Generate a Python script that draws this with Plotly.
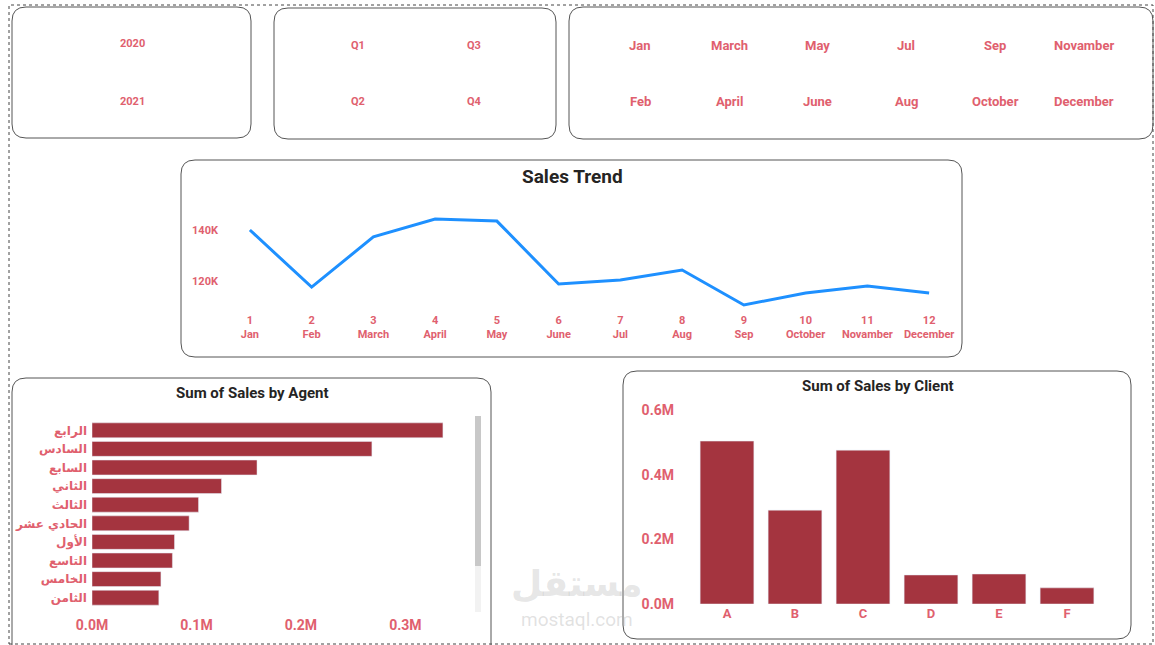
import plotly.graph_objects as go

W, H = 1155, 645

years = ["2020", "2021"]
quarters = ["Q1", "Q3", "Q2", "Q4"]
month_slicer = ["Jan", "March", "May", "Jul", "Sep", "Novamber",
                "Feb", "April", "June", "Aug", "October", "December"]

trend_x = list(range(1, 13))
trend_labels = ["Jan", "Feb", "March", "April", "May", "June", "Jul", "Aug",
                "Sep", "October", "Novamber", "December"]
trend_sales = [140.0, 117.6, 137.3, 144.3, 143.5, 118.8, 120.4, 124.3,
               110.6, 115.3, 118.0, 115.3]

agents = ["الرابع", "السادس", "السابع", "الثاني", "الثالث", "الحادي عشر",
          "الأول", "التاسع", "الخامس", "الثامن"]
agent_sales = [0.336, 0.268, 0.158, 0.124, 0.102, 0.093, 0.079, 0.077, 0.066, 0.064]

clients = ["A", "B", "C", "D", "E", "F"]
client_sales = [0.505, 0.291, 0.477, 0.090, 0.093, 0.050]

PINK = "#e0606e"
BAR = "#a4343f"
FONT = "Roboto"


def px(x):
    return x / W


def py(y):
    return 1 - y / H


def rounded_box(x0, y0, x1, y1, r=14):
    pts = [
        f"M {px(x0 + r)},{py(y0)}",
        f"L {px(x1 - r)},{py(y0)}",
        f"Q {px(x1)},{py(y0)} {px(x1)},{py(y0 + r)}",
        f"L {px(x1)},{py(y1 - r)}",
        f"Q {px(x1)},{py(y1)} {px(x1 - r)},{py(y1)}",
        f"L {px(x0 + r)},{py(y1)}",
        f"Q {px(x0)},{py(y1)} {px(x0)},{py(y1 - r)}",
        f"L {px(x0)},{py(y0 + r)}",
        f"Q {px(x0)},{py(y0)} {px(x0 + r)},{py(y0)} Z",
    ]
    return dict(type="path", xref="paper", yref="paper", path=" ".join(pts),
                line=dict(color="#555555", width=1), fillcolor="rgba(0,0,0,0)")


def pfont(size, color=PINK, family=FONT):
    return dict(family=family, size=size, color=color, weight="bold")


fig = go.Figure()

# Sales trend line
fig.add_trace(go.Scatter(
    x=trend_x, y=trend_sales, mode="lines",
    line=dict(color="#1e90ff", width=3), xaxis="x", yaxis="y", showlegend=False))

# Agent bars
fig.add_trace(go.Bar(
    x=agent_sales, y=agents, orientation="h", marker_color=BAR, width=0.8,
    xaxis="x2", yaxis="y2", showlegend=False))

# Client bars
fig.add_trace(go.Bar(
    x=clients, y=client_sales, marker_color=BAR, width=0.79,
    xaxis="x3", yaxis="y3", showlegend=False))

fig.update_layout(
    width=W, height=H, margin=dict(l=0, r=0, t=0, b=0),
    paper_bgcolor="white", plot_bgcolor="white",
    font=dict(family=FONT),
    xaxis=dict(domain=[px(219), px(960)], range=[0.5, 12.5],
               tickvals=trend_x,
               ticktext=[f"{n}<br>{m}" for n, m in zip(trend_x, trend_labels)],
               showgrid=False, zeroline=False, showline=False,
               tickfont=pfont(11)),
    yaxis=dict(domain=[py(311.6), py(209.6)], range=[108, 148],
               tickvals=[120, 140], ticktext=["120K", "140K"],
               showgrid=False, zeroline=False, tickfont=pfont(11)),
    xaxis2=dict(domain=[px(92), px(468)], range=[0, 0.36],
                tickvals=[0, 0.1, 0.2, 0.3], ticktext=["0.0M", "0.1M", "0.2M", "0.3M"],
                showgrid=False, zeroline=False, anchor="y2", ticklabelstandoff=8,
                tickfont=pfont(14)),
    yaxis2=dict(domain=[py(607), py(421)], autorange="reversed",
                showgrid=False, anchor="x2", ticklabelstandoff=4,
                tickfont=pfont(12, family="DejaVu Sans")),
    xaxis3=dict(domain=[px(693), px(1101)], range=[-0.5, 5.5],
                showgrid=False, anchor="y3",
                tickfont=pfont(13)),
    yaxis3=dict(domain=[py(604), py(404)], range=[0, 0.62],
                tickvals=[0, 0.2, 0.4, 0.6], ticktext=["0.0M", "0.2M", "0.4M", "0.6M"],
                showgrid=False, zeroline=False, anchor="x3", ticklabelstandoff=18,
                tickfont=pfont(14)),
)
fig.update_xaxes(automargin=False)
fig.update_yaxes(automargin=False)

shapes = [
    dict(type="rect", xref="paper", yref="paper", x0=px(9), y0=py(644), x1=px(1153), y1=py(5),
         line=dict(color="#444444", width=1, dash="dot")),
    rounded_box(12, 7, 251, 138),
    rounded_box(274, 8, 556, 139),
    rounded_box(569, 7, 1153, 139),
    rounded_box(181, 160, 962, 357),
    rounded_box(12, 378, 491, 660),
    rounded_box(623, 371, 1131, 639),
    # scrollbar
    dict(type="rect", xref="paper", yref="paper", x0=px(475), y0=py(566), x1=px(481), y1=py(416),
         line=dict(width=0), fillcolor="#c8c8c8"),
    dict(type="rect", xref="paper", yref="paper", x0=px(475), y0=py(612), x1=px(481), y1=py(566),
         line=dict(width=0), fillcolor="#f2f2f2"),
]
fig.update_layout(shapes=shapes)

ann = []
# year slicer
for i, t in enumerate(years):
    ann.append(dict(x=px(132), y=py(44 + 57 * i), text=t, font=pfont(11)))
# quarter slicer
qx = [358, 474]
for i, t in enumerate(quarters):
    ann.append(dict(x=px(qx[i % 2]), y=py(45 + 57 * (i // 2)), text=t, font=pfont(11)))
# month slicer
mx = [640, 729, 817, 906, 995, 1084]
for i, t in enumerate(month_slicer):
    ann.append(dict(x=px(mx[i % 6]), y=py(45 + 57 * (i // 6)), text=t, font=pfont(13)))
# titles
ann.append(dict(x=px(572), y=py(177), text="Sales Trend", font=pfont(19, "#252423")))
ann.append(dict(x=px(252), y=py(393), text="Sum of Sales by Agent", font=pfont(15, "#252423")))
ann.append(dict(x=px(878), y=py(386), text="Sum of Sales by Client", font=pfont(15, "#252423")))
# watermark
ann.append(dict(x=px(577), y=py(583), text="مستقل",
                font=pfont(36, "rgba(170,170,170,0.3)", "DejaVu Sans")))
ann.append(dict(x=px(577), y=py(619), text="mostaql.com",
                font=dict(family=FONT, size=19, color="rgba(170,170,170,0.35)")))

for a in ann:
    a.update(xref="paper", yref="paper", showarrow=False, xanchor="center", yanchor="middle")
fig.update_layout(annotations=ann)

fig.write_html("out.html", config={"displayModeBar": False},
               post_script="document.body.style.margin='0';document.body.style.overflow='hidden';")
